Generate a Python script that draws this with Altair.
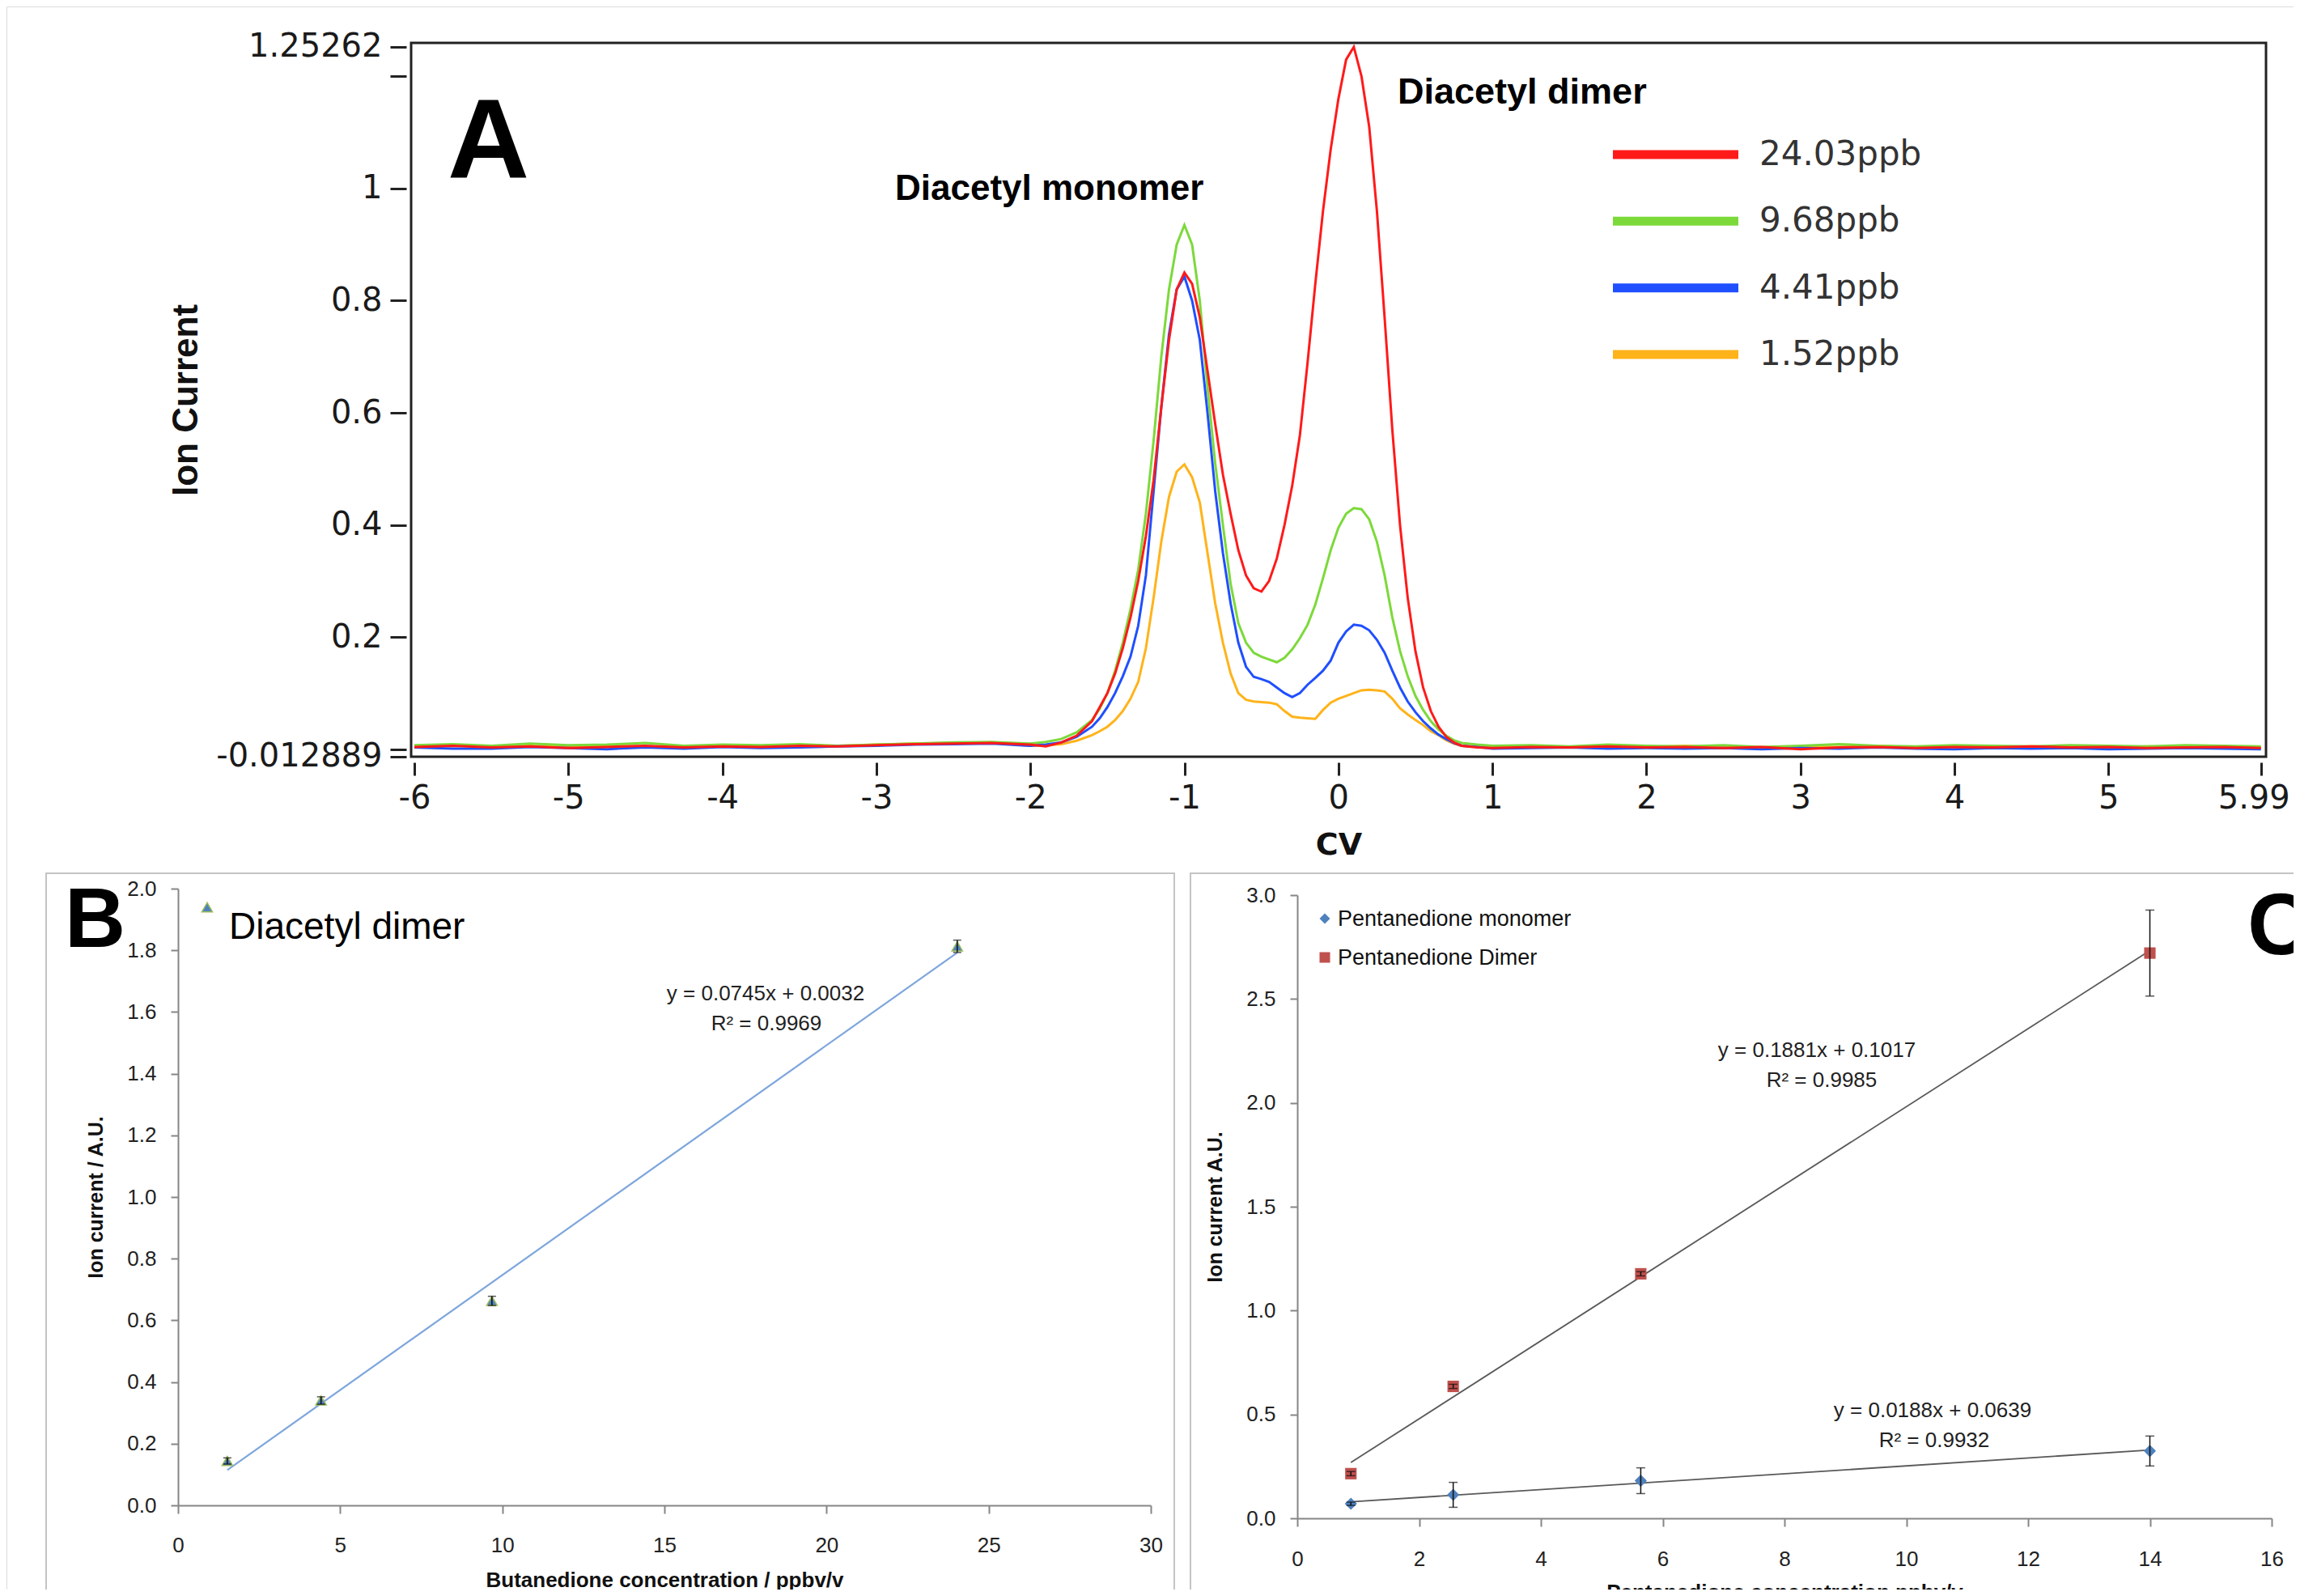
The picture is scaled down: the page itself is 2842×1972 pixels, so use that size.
import altair as alt
import pandas as pd

W, H = 2826, 1956

# ---------------- Panel A : CV spectra ----------------
cv = [-6.0, -5.75, -5.5, -5.25, -5.0, -4.75, -4.5, -4.25, -4.0, -3.75, -3.5, -3.25, -3.0, -2.75, -2.5, -2.25,
      -2.0, -1.9, -1.8, -1.7, -1.6,
      -1.55, -1.5, -1.45, -1.4, -1.35, -1.3, -1.25, -1.2, -1.15, -1.1, -1.05, -1.0, -0.95, -0.9, -0.85, -0.8,
      -0.75, -0.7, -0.65, -0.6, -0.55, -0.5, -0.45, -0.4, -0.35, -0.3, -0.25, -0.2, -0.15, -0.1, -0.05, 0.0,
      0.05, 0.1, 0.15, 0.2, 0.25, 0.3, 0.35, 0.4, 0.45, 0.5, 0.55, 0.6, 0.65, 0.7, 0.75, 0.8,
      0.9, 1.0, 1.25, 1.5, 1.75, 2.0, 2.25, 2.5, 2.75, 3.0, 3.25, 3.5, 3.75, 4.0, 4.25, 4.5, 4.75, 5.0, 5.25,
      5.5, 5.75, 5.99]

red_2403 = [0.004, 0.006, 0.003, 0.005, 0.002, 0.004, 0.006, 0.003, 0.005, 0.004, 0.006, 0.005, 0.007, 0.009, 0.010, 0.011,
            0.008, 0.005, 0.012, 0.024, 0.05,
            0.075, 0.10, 0.135, 0.18, 0.235, 0.30, 0.38, 0.48, 0.61, 0.73, 0.82, 0.85, 0.83, 0.77, 0.675, 0.58,
            0.49, 0.42, 0.355, 0.31, 0.287, 0.281, 0.30, 0.34, 0.40, 0.47, 0.56, 0.69, 0.83, 0.96, 1.07, 1.16,
            1.23, 1.2526, 1.20, 1.11, 0.96, 0.77, 0.57, 0.40, 0.27, 0.175, 0.11, 0.068, 0.04, 0.022, 0.012, 0.006,
            0.003, 0.002, 0.004, 0.003, 0.005, 0.003, 0.004, 0.002, 0.004, 0.000, 0.003, 0.004, 0.002, 0.004, 0.003,
            0.005, 0.003, 0.004, 0.002, 0.003, 0.004, 0.002]

green_968 = [0.007, 0.009, 0.006, 0.010, 0.007, 0.008, 0.011, 0.006, 0.008, 0.007, 0.009, 0.006, 0.008, 0.010, 0.012, 0.013,
             0.010, 0.013, 0.018, 0.03, 0.052,
             0.072, 0.10, 0.14, 0.19, 0.25, 0.32, 0.42, 0.55, 0.70, 0.82, 0.90, 0.935, 0.90, 0.80, 0.645, 0.51,
             0.40, 0.295, 0.225, 0.19, 0.172, 0.165, 0.16, 0.155, 0.163, 0.178, 0.198, 0.222, 0.258, 0.305, 0.355, 0.395,
             0.42, 0.43, 0.428, 0.41, 0.37, 0.31, 0.235, 0.175, 0.13, 0.095, 0.07, 0.05, 0.035, 0.024, 0.016, 0.011,
             0.008, 0.006, 0.007, 0.005, 0.008, 0.006, 0.005, 0.007, 0.004, 0.006, 0.009, 0.006, 0.005, 0.007, 0.006,
             0.005, 0.007, 0.006, 0.005, 0.007, 0.006, 0.005]

blue_441 = [0.003, 0.001, 0.001, 0.004, 0.002, 0.000, 0.003, 0.001, 0.004, 0.002, 0.003, 0.005, 0.006, 0.008, 0.009, 0.010,
            0.006, 0.008, 0.012, 0.022, 0.04,
            0.055, 0.075, 0.10, 0.13, 0.165, 0.22, 0.31, 0.46, 0.61, 0.74, 0.82, 0.843, 0.80, 0.73, 0.60, 0.46,
            0.35, 0.26, 0.19, 0.147, 0.129, 0.125, 0.12, 0.11, 0.10, 0.093, 0.10, 0.115, 0.127, 0.14, 0.158, 0.19,
            0.21, 0.222, 0.22, 0.212, 0.195, 0.172, 0.14, 0.11, 0.085, 0.066, 0.05, 0.037, 0.026, 0.018, 0.011, 0.006,
            0.004, 0.001, 0.002, 0.003, 0.001, 0.002, 0.001, 0.002, 0.000, 0.002, 0.001, 0.003, 0.001, 0.000, 0.002,
            0.001, 0.002, 0.000, 0.001, 0.002, 0.001, 0.000]

orange_152 = [0.005, 0.007, 0.005, 0.006, 0.004, 0.006, 0.005, 0.004, 0.006, 0.005, 0.007, 0.006, 0.008, 0.010, 0.011, 0.012,
              0.006, 0.007, 0.009, 0.015, 0.025,
              0.032, 0.04, 0.052, 0.068, 0.09, 0.12, 0.18, 0.27, 0.37, 0.45, 0.495, 0.508, 0.485, 0.44, 0.35, 0.26,
              0.19, 0.135, 0.10, 0.088, 0.085, 0.084, 0.083, 0.08, 0.068, 0.058, 0.056, 0.055, 0.054, 0.07, 0.083, 0.09,
              0.095, 0.10, 0.105, 0.106, 0.105, 0.103, 0.09, 0.073, 0.062, 0.052, 0.043, 0.032, 0.025, 0.016, 0.01, 0.006,
              0.005, 0.004, 0.005, 0.003, 0.005, 0.004, 0.006, 0.004, 0.003, 0.005, 0.004, 0.006, 0.003, 0.005, 0.004,
              0.005, 0.004, 0.003, 0.005, 0.004, 0.005, 0.004]

series_names = ["24.03ppb", "9.68ppb", "4.41ppb", "1.52ppb"]
series_colors = ["#ff1a1a", "#7cd93a", "#1f4fff", "#ffb31a"]
series_values = [red_2403, green_968, blue_441, orange_152]

a_xticks = [-6, -5, -4, -3, -2, -1, 0, 1, 2, 3, 4, 5, 5.99]
a_yticks = [-0.012889, 0, 0.2, 0.4, 0.6, 0.8, 1, 1.2, 1.25262]

rowsA = []
for name, vals in zip(series_names, series_values):
    for c, v in zip(cv, vals):
        rowsA.append({"series": name, "cv": c, "ion": v})
dfA = pd.DataFrame(rowsA)

# ---------------- Panel B : butanedione calibration ----------------
b_conc = [1.52, 4.41, 9.68, 24.03]
b_ion = [0.144, 0.340, 0.663, 1.813]
b_err = [0.010, 0.012, 0.015, 0.020]
dfB = pd.DataFrame({"conc": b_conc, "ion": b_ion, "err": b_err})
b_xticks = [0, 5, 10, 15, 20, 25, 30]
b_yticks = [0, 0.2, 0.4, 0.6, 0.8, 1.0, 1.2, 1.4, 1.6, 1.8, 2.0]

# ---------------- Panel C : pentanedione calibration ----------------
c_conc = [0.88, 2.56, 5.64, 14.0]
c_mono = [0.070, 0.113, 0.181, 0.324]
c_mono_err = [0.008, 0.060, 0.062, 0.072]
c_dimer = [0.215, 0.635, 1.177, 2.721]
c_dimer_err = [0.010, 0.010, 0.010, 0.207]
c_names = ["Pentanedione monomer", "Pentanedione Dimer"]
rowsC = []
for c, m, me, d, de in zip(c_conc, c_mono, c_mono_err, c_dimer, c_dimer_err):
    rowsC.append({"series": c_names[0], "conc": c, "ion": m, "err": me})
    rowsC.append({"series": c_names[1], "conc": c, "ion": d, "err": de})
dfC = pd.DataFrame(rowsC)
c_xticks = [0, 2, 4, 6, 8, 10, 12, 14, 16]
c_yticks = [0, 0.5, 1.0, 1.5, 2.0, 2.5, 3.0]

# ---------------- texts ----------------
eq_B = ["y = 0.0745x + 0.0032", "R\u00b2 = 0.9969"]
eq_C_dimer = ["y = 0.1881x + 0.1017", "R\u00b2 = 0.9985"]
eq_C_mono = ["y = 0.0188x + 0.0639", "R\u00b2 = 0.9932"]

NARROW = "Liberation Sans Narrow, Liberation Sans"
SANS = "Liberation Sans"
VERD = "DejaVu Sans"

dummy = pd.DataFrame({"k": [0]})


def txt(s, x, y, size, font=SANS, weight="normal", align="left", color="#111111"):
    return alt.Chart(dummy).mark_text(align=align, baseline="alphabetic", font=font, fontSize=size,
                                      fontWeight=weight, color=color).encode(
        x=alt.value(x), y=alt.value(y), text=alt.value(s))


# ---- Panel A layers ----
axAx = alt.Axis(orient="bottom", offset=934 - H, values=a_xticks, labelExpr="toString(datum.value)",
                title="CV", titleFont=VERD, titleFontWeight="bold", titleFontSize=38, titleColor="#111",
                titleY=113, titleBaseline="alphabetic",
                labelFont=VERD, labelFontSize=40, labelColor="#1a1a1a", labelPadding=8, labelLimit=0,
                labelOffset={"condition": {"test": "datum.value == 5.99", "value": -9}, "value": 0},
                labelFlush=False, labelOverlap=False, labelBound=False,
                tickSize=16, tickWidth=3, tickColor="#222", domain=False, grid=False)
axAy = alt.Axis(orient="left", offset=-494, values=a_yticks,
                labelExpr="datum.value == 0 || datum.value == 1.2 ? '' : toString(datum.value)",
                title="Ion Current", titleFont=SANS, titleFontWeight="bold", titleFontSize=44, titleColor="#111",
                titleX=-259, titleY=486, titleAngle=-90, titleBaseline="alphabetic", titleAlign="center",
                labelFont=VERD, labelFontSize=40, labelColor="#1a1a1a", labelPadding=10, labelLimit=0,
                labelFlush=False, labelOverlap=False, labelBound=False,
                tickSize=20, tickWidth=3, tickColor="#222", domain=False, grid=False)
scAx = alt.Scale(domain=[-6.021, 6.023], range=[500, 2792], nice=False, zero=False)
scAy = alt.Scale(domain=[-0.0135, 1.2598], range=[927, 45], nice=False, zero=False)

draw_order = [3, 1, 2, 0]
linesA = []
for i in draw_order:
    linesA.append(
        alt.Chart(dfA).transform_filter(alt.datum.series == series_names[i])
        .mark_line(color=series_colors[i], strokeWidth=3)
        .encode(x=alt.X("cv:Q", scale=scAx, axis=axAx), y=alt.Y("ion:Q", scale=scAy, axis=axAy))
    )
panelA = alt.layer(*linesA)

frameA = alt.Chart(dummy).mark_rect(fillOpacity=0, stroke="#222", strokeWidth=3).encode(
    x=alt.value(500), x2=alt.value(2792), y=alt.value(45), y2=alt.value(927))

dfLeg = pd.DataFrame({"series": series_names})
yLeg = alt.Y("series:N", scale=alt.Scale(type="point", domain=series_names, range=[183, 430], padding=0), axis=None)
cLeg = alt.Color("series:N", scale=alt.Scale(domain=series_names, range=series_colors), legend=None)
legendA = alt.layer(
    alt.Chart(dfLeg).mark_rule(strokeWidth=11).encode(x=alt.value(1985), x2=alt.value(2140), y=yLeg, color=cLeg),
    alt.Chart(dfLeg).mark_text(align="left", baseline="middle", font=VERD, fontSize=42, color="#333").encode(
        x=alt.value(2166), y=yLeg, text="series:N"),
)

# ---- Panel B layers ----
GRAY = "#868686"
axBx = alt.Axis(orient="bottom", offset=1852 - H, values=b_xticks, format="d",
                title="Butanedione concentration / ppbv/v", titleFont=SANS, titleFontWeight="bold",
                titleFontSize=26, titleColor="#111", titleY=100, titleBaseline="alphabetic", titleLimit=0,
                labelFont=SANS, labelFontSize=26, labelColor="#222", labelPadding=26,
                labelFlush=False, labelOverlap=False, labelBound=False,
                tickSize=10, tickWidth=2, tickColor=GRAY, domainColor=GRAY, domainWidth=2, grid=False)
axBy = alt.Axis(orient="left", offset=-212, values=b_yticks, format=".1f",
                title="Ion current / A.U.", titleFont=SANS, titleFontWeight="bold", titleFontSize=25,
                titleColor="#111", titleX=-94, titleY=1471, titleAngle=-90, titleBaseline="alphabetic",
                titleAlign="center", titleLimit=0,
                labelFont=SANS, labelFontSize=26, labelColor="#222", labelPadding=18,
                labelFlush=False, labelOverlap=False, labelBound=False,
                tickSize=9, tickWidth=2, tickColor=GRAY, domainColor=GRAY, domainWidth=2, grid=False)
scBx = alt.Scale(domain=[0, 30], range=[212, 1414], nice=False, zero=False)
scBy = alt.Scale(domain=[0, 2.0], range=[1852, 1090], nice=False, zero=False)


def xB(f="conc"):
    return alt.X(f"{f}:Q", scale=scBx, axis=axBx)


def yB(f="ion"):
    return alt.Y(f"{f}:Q", scale=scBy, axis=axBy)


trendB = alt.Chart(dfB).transform_regression("conc", "ion").mark_line(color="#7ea6dc", strokeWidth=2.2).encode(
    x=xB(), y=yB())
ptsB = alt.Chart(dfB).mark_point(shape="triangle-up", filled=True, size=170, fill="#4f81bd", stroke="#9bbb59",
                                 strokeWidth=1.5, opacity=1).encode(x=xB(), y=yB())
errB = alt.Chart(dfB).transform_calculate(lo="datum.ion - datum.err", hi="datum.ion + datum.err")
errB_rule = errB.mark_rule(color="#111", strokeWidth=1.5).encode(x=xB(), y=yB("lo"), y2="hi:Q")
errB_lo = errB.mark_tick(orient="horizontal", size=10, thickness=1.5, color="#111").encode(x=xB(), y=yB("lo"))
errB_hi = errB.mark_tick(orient="horizontal", size=10, thickness=1.5, color="#111").encode(x=xB(), y=yB("hi"))
panelB = alt.layer(trendB, ptsB, errB_rule, errB_lo, errB_hi)

# ---- Panel C layers ----
axCx = alt.Axis(orient="bottom", offset=1868 - H, values=c_xticks, format="d",
                title="Pentanedione concentration ppbv/v", titleFont=SANS, titleFontWeight="bold",
                titleFontSize=26, titleColor="#111", titleY=99, titleBaseline="alphabetic", titleLimit=0,
                labelFont=SANS, labelFontSize=26, labelColor="#222", labelPadding=27,
                labelFlush=False, labelOverlap=False, labelBound=False,
                tickSize=10, tickWidth=2, tickColor=GRAY, domainColor=GRAY, domainWidth=2, grid=False)
axCy = alt.Axis(orient="left", offset=-1595, values=c_yticks, format=".1f",
                title="Ion current A.U.", titleFont=SANS, titleFontWeight="bold", titleFontSize=25,
                titleColor="#111", titleX=-94, titleY=1483, titleAngle=-90, titleBaseline="alphabetic",
                titleAlign="center", titleLimit=0,
                labelFont=SANS, labelFontSize=26, labelColor="#222", labelPadding=18,
                labelFlush=False, labelOverlap=False, labelBound=False,
                tickSize=9, tickWidth=2, tickColor=GRAY, domainColor=GRAY, domainWidth=2, grid=False)
scCx = alt.Scale(domain=[0, 16], range=[1595, 2799], nice=False, zero=False)
scCy = alt.Scale(domain=[0, 3.0], range=[1868, 1098], nice=False, zero=False)


def xC(f="conc"):
    return alt.X(f"{f}:Q", scale=scCx, axis=axCx)


def yC(f="ion"):
    return alt.Y(f"{f}:Q", scale=scCy, axis=axCy)


trendC = alt.Chart(dfC).transform_regression("conc", "ion", groupby=["series"]).mark_line(
    color="#595959", strokeWidth=1.8).encode(x=xC(), y=yC(), detail="series:N")
monoC = alt.Chart(dfC).transform_filter(alt.datum.series == c_names[0]).mark_point(
    shape="diamond", filled=True, size=230, color="#4f81bd", opacity=1).encode(x=xC(), y=yC())
dimerC = alt.Chart(dfC).transform_filter(alt.datum.series == c_names[1]).mark_point(
    shape="square", filled=True, size=200, color="#c0504d", opacity=1).encode(x=xC(), y=yC())
errC = alt.Chart(dfC).transform_calculate(lo="datum.ion - datum.err", hi="datum.ion + datum.err")
errC_rule = errC.mark_rule(color="#111", strokeWidth=1.5).encode(x=xC(), y=yC("lo"), y2="hi:Q")
errC_lo = errC.mark_tick(orient="horizontal", size=11, thickness=1.5, color="#111").encode(x=xC(), y=yC("lo"))
errC_hi = errC.mark_tick(orient="horizontal", size=11, thickness=1.5, color="#111").encode(x=xC(), y=yC("hi"))
panelC = alt.layer(trendC, monoC, dimerC, errC_rule, errC_lo, errC_hi)

# ---- decorations ----
boxB = alt.Chart(dummy).mark_rect(fillOpacity=0, stroke="#c4c4c4", strokeWidth=2).encode(
    x=alt.value(49), x2=alt.value(1443), y=alt.value(1071), y2=alt.value(2100))
boxC = alt.Chart(dummy).mark_rect(fillOpacity=0, stroke="#c4c4c4", strokeWidth=2).encode(
    x=alt.value(1463), x2=alt.value(3000), y=alt.value(1071), y2=alt.value(2100))

legB_mark = alt.Chart(dummy).mark_point(shape="triangle-up", filled=True, size=170, fill="#4f81bd",
                                        stroke="#9bbb59", strokeWidth=1.5, opacity=1).encode(
    x=alt.value(248), y=alt.value(1113))
legC_mono = alt.Chart(dummy).mark_point(shape="diamond", filled=True, size=170, color="#4f81bd", opacity=1).encode(
    x=alt.value(1629), y=alt.value(1127))
legC_dimer = alt.Chart(dummy).mark_point(shape="square", filled=True, size=170, color="#c0504d", opacity=1).encode(
    x=alt.value(1629), y=alt.value(1175))

texts = [
    txt("A", 545, 212, 140, font=NARROW, weight="bold", color="#000"),
    txt("B", 72, 1162, 104, font=NARROW, weight="bold", color="#000"),
    txt("C", 2769, 1171, 108, font=NARROW, weight="bold", color="#000"),
    txt("Diacetyl monomer", 1098, 239, 44, weight="bold", color="#000"),
    txt("Diacetyl dimer", 1719, 120, 45, weight="bold", color="#000"),
    txt("Diacetyl dimer", 275, 1152, 46, color="#000"),
    txt(c_names[0], 1645, 1136, 27, color="#111"),
    txt(c_names[1], 1645, 1184, 27, color="#111"),
    txt(eq_B[0], 938, 1228, 26, align="center", color="#222"),
    txt(eq_B[1], 939, 1265, 26, align="center", color="#222"),
    txt(eq_C_dimer[0], 2237, 1298, 26, align="center", color="#222"),
    txt(eq_C_dimer[1], 2243, 1335, 26, align="center", color="#222"),
    txt(eq_C_mono[0], 2380, 1743, 26, align="center", color="#222"),
    txt(eq_C_mono[1], 2382, 1780, 26, align="center", color="#222"),
]

chart = alt.layer(
    boxB, boxC, frameA, panelA, legendA, panelB, panelC, legB_mark, legC_mono, legC_dimer, *texts
).resolve_scale(x="independent", y="independent", color="independent").properties(
    width=W, height=H, padding=0, autosize=alt.AutoSizeParams(type="none")
).configure_view(stroke=None).configure(background="white")

chart.save("out.html", embed_options={"renderer": "svg", "actions": False})
